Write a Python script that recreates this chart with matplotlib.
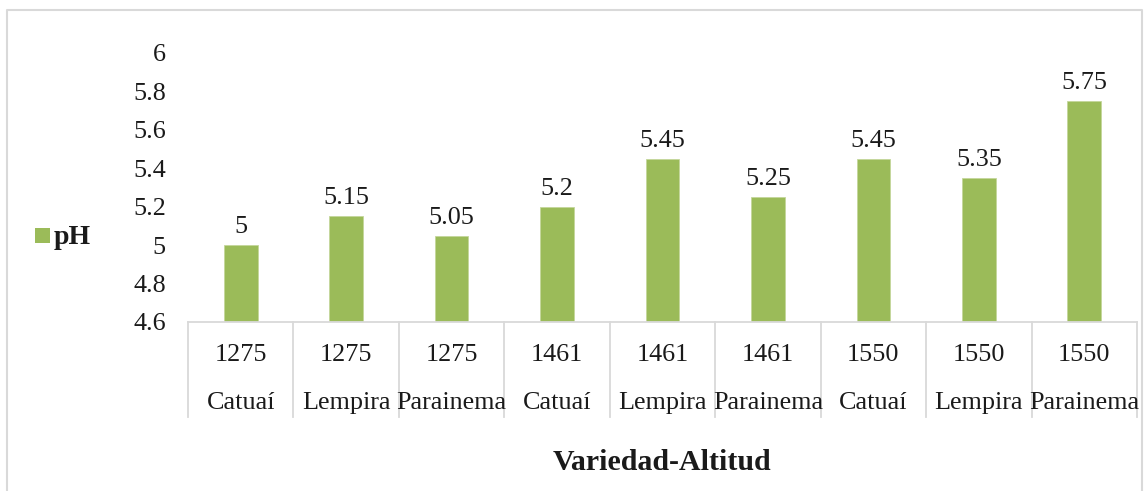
import matplotlib
matplotlib.use('Agg')
import matplotlib.pyplot as plt
from matplotlib.patches import Rectangle
from matplotlib.lines import Line2D

plt.rcParams['font.family'] = ['Liberation Serif', 'DejaVu Serif']

altitudes = ['1275', '1275', '1275', '1461', '1461', '1461', '1550', '1550', '1550']
varieties = ['Catuaí', 'Lempira', 'Parainema', 'Catuaí', 'Lempira', 'Parainema',
             'Catuaí', 'Lempira', 'Parainema']
ph = [5.0, 5.15, 5.05, 5.2, 5.45, 5.25, 5.45, 5.35, 5.75]
labels = ['5', '5.15', '5.05', '5.2', '5.45', '5.25', '5.45', '5.35', '5.75']
yticks = [4.6, 4.8, 5.0, 5.2, 5.4, 5.6, 5.8, 6.0]
ytick_labels = ['4.6', '4.8', '5', '5.2', '5.4', '5.6', '5.8', '6']

GREEN = '#9bbb59'
GRID = '#d9d9d9'
INK = '#1a1a1a'
FS = 18.8
W, H = 1146, 491

fig = plt.figure(figsize=(W / 100, H / 100), dpi=100)
ax = fig.add_axes([188 / W, 1 - 322 / H, (1137 - 188) / W, (322 - 53) / H])

x = list(range(len(ph)))
ax.bar(x, [v - 4.6 for v in ph], bottom=4.6, width=0.32, color=GREEN,
       edgecolor='#c4d79b', linewidth=0.6)
for xi, v, lab in zip(x, ph, labels):
    ax.annotate(lab, (xi, v), xytext=(0, 5), textcoords='offset points',
                ha='center', va='bottom', fontsize=FS, color=INK, annotation_clip=False)

ax.set_xlim(-0.5, len(ph) - 0.5)
ax.set_ylim(4.6, 6.0)
ax.set_yticks(yticks)
ax.set_yticklabels(ytick_labels, fontsize=FS, color=INK)
ax.tick_params(axis='y', length=0, pad=16)
ax.set_xticks([])
for s in ['left', 'right', 'top']:
    ax.spines[s].set_visible(False)
ax.spines['bottom'].set_color(GRID)
ax.spines['bottom'].set_linewidth(1.3)

# multi-level category axis
tr = ax.get_xaxis_transform()
for i in range(len(ph) + 1):
    ax.add_line(Line2D([i - 0.5, i - 0.5], [0, -0.353], transform=tr, color=GRID,
                       lw=1.3, clip_on=False))
for xi, a, v in zip(x, altitudes, varieties):
    ax.text(xi, -0.123, a, transform=tr, ha='center', va='center', fontsize=FS, color=INK)
    ax.text(xi, -0.301, v, transform=tr, ha='center', va='center', fontsize=FS, color=INK)

fig.text(662 / W, 1 - 462 / H, 'Variedad-Altitud', ha='center', va='center',
         fontsize=21.5, weight='bold', color=INK)

# legend
fig.patches.append(Rectangle((35 / W, 1 - 243 / H), 15 / W, 15 / H, transform=fig.transFigure,
                             fc=GREEN, ec='none'))
fig.text(54 / W, 1 - 237 / H, 'pH', ha='left', va='center', fontsize=20, weight='bold',
         color=INK)

# chart area border
fig.add_artist(Line2D([7 / W, 7 / W, 1142 / W, 1142 / W], [-0.1, 1 - 10 / H, 1 - 10 / H, -0.1],
                      transform=fig.transFigure, color=GRID, lw=1.5))

fig.savefig('out.png', dpi=100, facecolor='white')
